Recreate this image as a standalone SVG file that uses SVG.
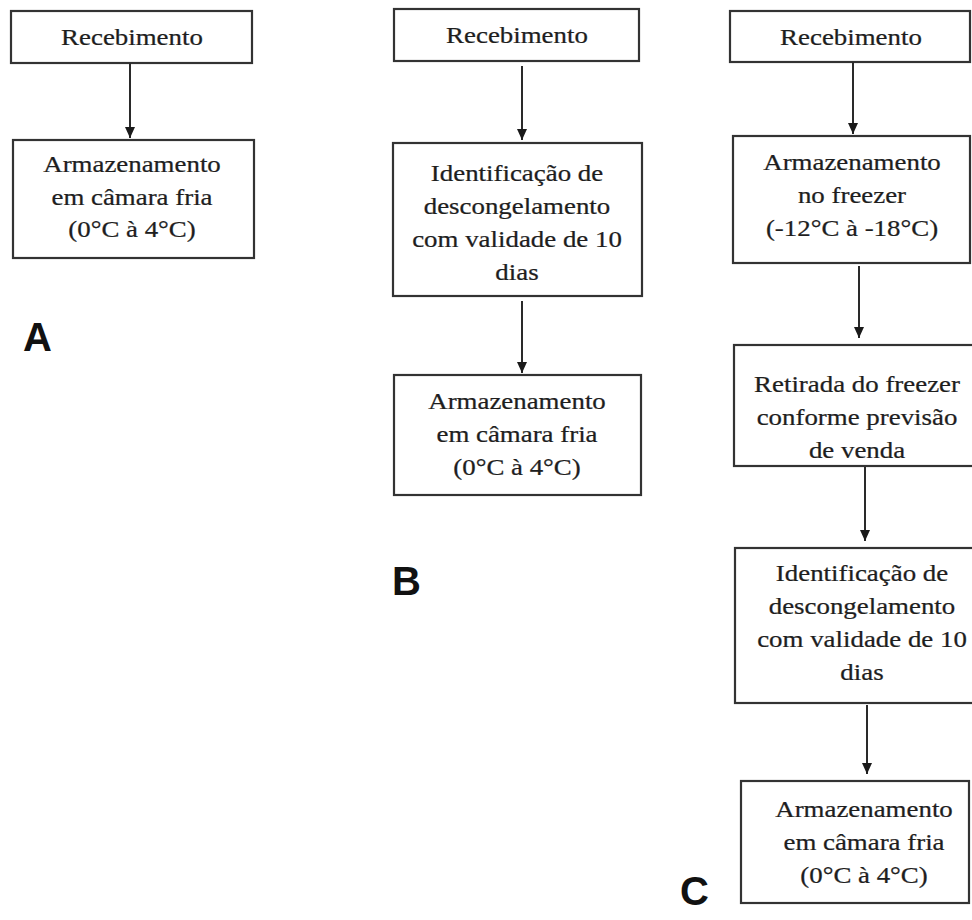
<svg xmlns="http://www.w3.org/2000/svg" width="972" height="920" viewBox="0 0 972 920">
<style>
.box{fill:#fff;stroke:#333;stroke-width:2.2}
.t{font-family:"Liberation Serif","Times New Roman",serif;font-size:24px;fill:#1e1e1e;stroke:#1e1e1e;stroke-width:0.25;text-anchor:middle}
.lbl{font-family:"Liberation Sans",Arial,sans-serif;font-size:40px;font-weight:bold;fill:#111}
.c{stroke:#2a2a2a;stroke-width:2;fill:none;marker-end:url(#ah)}
</style>
<defs>
<marker id="ah" markerUnits="userSpaceOnUse" markerWidth="12" markerHeight="11" refX="11" refY="5.5" orient="auto">
<path d="M0,0.5 L11,5.5 L0,10.5 z" fill="#1a1a1a"/>
</marker>
</defs>
<rect width="972" height="920" fill="#fff"/>

<!-- Column A -->
<g id="a1"><rect class="box" x="11" y="11" width="241" height="52"/>
<text class="t" transform="translate(132,0) scale(1.12,1)"><tspan x="0" y="45">Recebimento</tspan></text></g>
<g id="a2"><rect class="box" x="13" y="140" width="241" height="118"/>
<text class="t" transform="translate(132,0) scale(1.12,1)"><tspan x="0" y="172">Armazenamento</tspan><tspan x="0" y="205">em câmara fria</tspan><tspan x="0" y="237">(0°C à 4°C)</tspan></text></g>
<text id="labelA" class="lbl" x="23" y="351">A</text>

<!-- Column B -->
<g id="b1"><rect class="box" x="394" y="9" width="245" height="52"/>
<text class="t" transform="translate(517,0) scale(1.12,1)"><tspan x="0" y="43">Recebimento</tspan></text></g>
<g id="b2"><rect class="box" x="393" y="143" width="249" height="153"/>
<text class="t" transform="translate(517,0) scale(1.12,1)"><tspan x="0" y="181">Identificação de</tspan><tspan x="0" y="214">descongelamento</tspan><tspan x="0" y="247">com validade de 10</tspan><tspan x="0" y="280">dias</tspan></text></g>
<g id="b3"><rect class="box" x="394" y="375" width="247" height="120"/>
<text class="t" transform="translate(517,0) scale(1.12,1)"><tspan x="0" y="409">Armazenamento</tspan><tspan x="0" y="442">em câmara fria</tspan><tspan x="0" y="475">(0°C à 4°C)</tspan></text></g>
<text id="labelB" class="lbl" x="392" y="595">B</text>

<!-- Column C -->
<g id="c1"><rect class="box" x="730" y="11" width="240" height="51"/>
<text class="t" transform="translate(851,0) scale(1.12,1)"><tspan x="0" y="45">Recebimento</tspan></text></g>
<g id="c2"><rect class="box" x="733" y="136" width="237" height="127"/>
<text class="t" transform="translate(852,0) scale(1.12,1)"><tspan x="0" y="170">Armazenamento</tspan><tspan x="0" y="203">no freezer</tspan><tspan x="0" y="236">(-12°C à -18°C)</tspan></text></g>
<g id="c3"><rect class="box" x="734" y="345" width="260" height="121"/>
<text class="t" transform="translate(857,0) scale(1.12,1)"><tspan x="0" y="392">Retirada do freezer</tspan><tspan x="0" y="425">conforme previsão</tspan><tspan x="0" y="458">de venda</tspan></text></g>
<g id="c4"><rect class="box" x="735" y="548" width="260" height="155"/>
<text class="t" transform="translate(862,0) scale(1.12,1)"><tspan x="0" y="581">Identificação de</tspan><tspan x="0" y="614">descongelamento</tspan><tspan x="0" y="647">com validade de 10</tspan><tspan x="0" y="680">dias</tspan></text></g>
<g id="c5"><rect class="box" x="741" y="781" width="228" height="122"/>
<text class="t" transform="translate(864,0) scale(1.12,1)"><tspan x="0" y="817">Armazenamento</tspan><tspan x="0" y="850">em câmara fria</tspan><tspan x="0" y="883">(0°C à 4°C)</tspan></text></g>
<text id="labelC" class="lbl" x="680" y="905">C</text>

<g id="connectors">
<line class="c" x1="130" y1="63" x2="130" y2="138"/>
<line class="c" x1="522" y1="66" x2="522" y2="140"/>
<line class="c" x1="522" y1="301" x2="522" y2="373"/>
<line class="c" x1="853" y1="62" x2="853" y2="134"/>
<line class="c" x1="859" y1="266" x2="859" y2="338"/>
<line class="c" x1="865" y1="467" x2="865" y2="541"/>
<line class="c" x1="867" y1="705" x2="867" y2="774"/>
</g>
</svg>
